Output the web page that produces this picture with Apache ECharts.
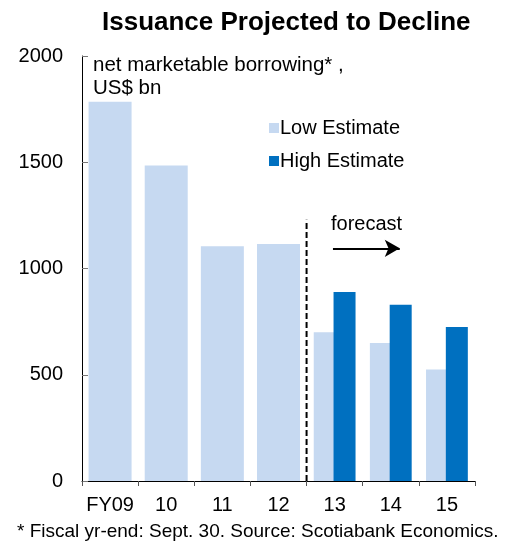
<!DOCTYPE html>
<html>
<head>
<meta charset="utf-8">
<script src="https://cdn.jsdelivr.net/npm/echarts@6/dist/echarts.min.js"></script>
<style>
  html, body { margin: 0; padding: 0; background: #fff; }
  #chart { width: 515px; height: 542px; }
</style>
</head>
<body>
<div id="chart"></div>
<script>
// Fiscal years on the category axis
var categories = ['FY09', '10', '11', '12', '13', '14', '15'];
// Actual net marketable borrowing, US$ bn (FY09-FY12)
var actual = [1785, 1485, 1105, 1115, null, null, null];
// Projections, US$ bn (FY13-FY15)
var lowEstimate = [null, null, null, null, 700, 650, 525];
var highEstimate = [null, null, null, null, 890, 830, 725];
// Value-axis ticks
var yTicks = [0, 500, 1000, 1500, 2000];
// Forecast divider sits between FY12 and FY13; arrow runs across the forecast years
var dividerX = 3.5, dividerTop = 1230;
var arrowFrom = [3.97, 1095], arrowTo = [5.16, 1095];

var LIGHT = '#C6D9F1';
var DARK = '#0070C0';
var FONT = 'Liberation Sans, Arial, sans-serif';

var chart = echarts.init(document.getElementById('chart'), null, { renderer: 'canvas' });

chart.setOption({
  animation: false,
  backgroundColor: '#fff',
  textStyle: { fontFamily: FONT },
  title: {
    text: 'Issuance Projected to Decline',
    left: 97, top: 5,
    textStyle: { fontFamily: FONT, fontSize: 26, fontWeight: 'bold', color: '#000' }
  },
  legend: {
    data: ['Low Estimate', 'High Estimate'],
    orient: 'vertical',
    left: 264, top: 113,
    itemWidth: 10, itemHeight: 10, itemGap: 13,
    icon: 'rect',
    textStyle: { fontFamily: FONT, fontSize: 20, color: '#000', lineHeight: 20, padding: [0, 0, 0, -4] }
  },
  grid: { left: 82, right: 40, top: 56, bottom: 61 },
  xAxis: [
    {
      type: 'category', data: categories, boundaryGap: true,
      axisLine: { onZero: false, lineStyle: { color: '#000', width: 1 } },
      axisTick: { show: true, inside: false, length: 5, lineStyle: { color: '#555' } },
      axisLabel: { interval: 0, fontFamily: FONT, fontSize: 20, color: '#000', margin: 14 }
    },
    {
      type: 'category', data: categories, boundaryGap: true, show: false
    },
    {
      type: 'value', min: -0.5, max: 6.5, show: false
    }
  ],
  yAxis: {
    type: 'value', min: yTicks[0], max: yTicks[yTicks.length - 1], interval: 500,
    axisLine: { show: true, onZero: false, lineStyle: { color: '#000', width: 1 } },
    axisTick: { show: true, inside: true, length: 6, lineStyle: { color: '#777' } },
    splitLine: { show: false },
    axisLabel: {
      fontFamily: FONT, fontSize: 20, color: '#000', margin: 19,
      formatter: function (v) { return String(v); }
    }
  },
  series: [
    {
      name: 'Actual', type: 'bar', xAxisIndex: 0, data: actual,
      barWidth: 43, itemStyle: { color: LIGHT }
    },
    {
      name: 'Low Estimate', type: 'bar', xAxisIndex: 1, data: lowEstimate,
      barWidth: 22, barGap: '-10%', itemStyle: { color: LIGHT }
    },
    {
      name: 'High Estimate', type: 'bar', xAxisIndex: 1, data: highEstimate,
      barWidth: 22, barGap: '-10%', itemStyle: { color: DARK }
    },
    {
      // dashed forecast divider, plus the forecast arrow as a mark line
      name: 'divider', type: 'line', xAxisIndex: 2,
      data: [[dividerX, 0], [dividerX, dividerTop]],
      symbol: 'none', showSymbol: false, z: 5,
      lineStyle: { color: '#000', width: 2, type: [6, 3] },
      markLine: {
        silent: true,
        symbol: ['none', 'arrow'], symbolSize: [13, 15],
        label: { show: false },
        lineStyle: { color: '#000', width: 2, type: 'solid' },
        data: [[{ coord: arrowFrom }, { coord: arrowTo }]]
      }
    }
  ],
  graphic: [
    {
      type: 'text', left: 93, top: 54,
      style: {
        text: 'net marketable borrowing* ,\nUS$ bn',
        font: '20.5px ' + FONT, fill: '#000', lineHeight: 23
      }
    },
    {
      type: 'text', left: 331, top: 214,
      style: { text: 'forecast', font: '20px ' + FONT, fill: '#000' }
    },
    {
      type: 'text', left: 17, top: 522,
      style: {
        text: '* Fiscal yr-end: Sept. 30. Source: Scotiabank Economics.',
        font: '19px ' + FONT, fill: '#000'
      }
    }
  ]
});
</script>
</body>
</html>
